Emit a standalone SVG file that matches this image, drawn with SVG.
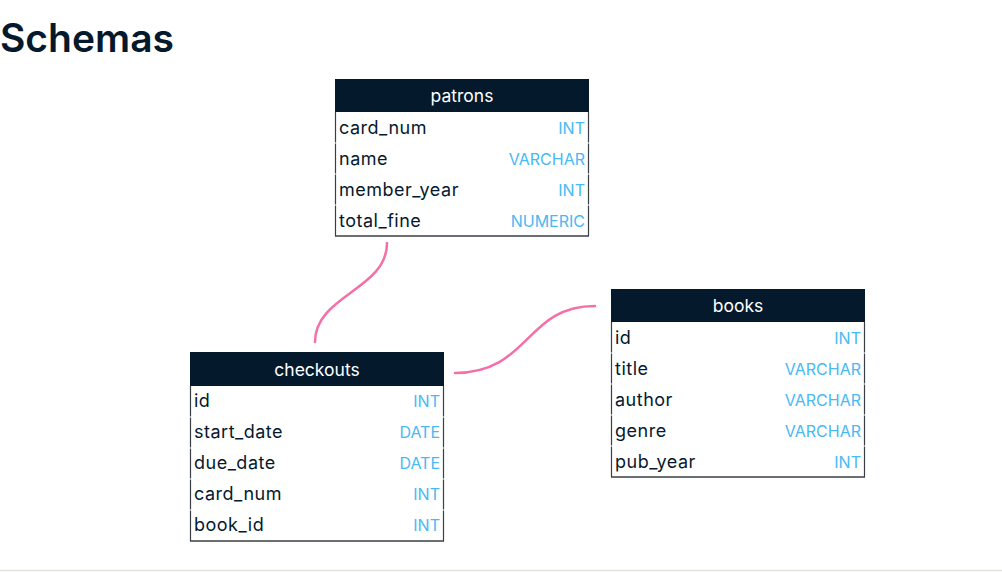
<svg xmlns="http://www.w3.org/2000/svg" width="1002" height="572" viewBox="0 0 1002 572">
<style>
.title{font-family:Inter,"Noto Sans",sans-serif;font-weight:600;font-size:39px;fill:#05192d}
.hdr{fill:#05192d}
.htxt{font-family:Inter,"Noto Sans",sans-serif;font-size:17.5px;fill:#ffffff;text-anchor:middle}
.col{font-family:Inter,"Noto Sans",sans-serif;font-size:18px;letter-spacing:0.5px;fill:#05192d}
.typ{font-family:Inter,"Noto Sans",sans-serif;font-size:16px;fill:#48b9f4;text-anchor:end}
.side{stroke:#3a3f45;stroke-width:1.2;fill:none}
.bot{stroke:#3a3f45;stroke-width:1.5}
.conn{fill:none;stroke:#f470a8;stroke-width:2.5;stroke-linecap:round}
</style>
<rect width="1002" height="572" fill="#ffffff"/>
<text class="title" x="0" y="52">Schemas</text>
<line x1="0" y1="570.5" x2="1002" y2="570.5" stroke="#e4e1dc" stroke-width="1.5"/>
<g id="connectors">
<path class="conn" d="M387,243 C387,290 315,295 315,342"/>
<path class="conn" d="M455,373 C530,373 525,306 595,306"/>
</g>
<g id="patrons">
<rect class="hdr" x="335" y="79" width="254" height="33"/>
<text class="htxt" x="462" y="102">patrons</text>
<path class="side" d="M335.5,112 V142.5 M588.5,112 V142.5 M335.5,143.5 V173.5 M588.5,143.5 V173.5 M335.5,174.5 V204.5 M588.5,174.5 V204.5 M335.5,205.5 V236 M588.5,205.5 V236"/>
<line class="bot" x1="335" y1="236" x2="589" y2="236"/>
<text class="col" x="339" y="134">card_num</text><text class="typ" x="585" y="134">INT</text>
<text class="col" x="339" y="165">name</text><text class="typ" x="585" y="165">VARCHAR</text>
<text class="col" x="339" y="196">member_year</text><text class="typ" x="585" y="196">INT</text>
<text class="col" x="339" y="227">total_fine</text><text class="typ" x="585" y="227">NUMERIC</text>
</g>
<g id="checkouts">
<rect class="hdr" x="190" y="352" width="254" height="34"/>
<text class="htxt" x="317" y="376">checkouts</text>
<path class="side" d="M190.5,386 V416.5 M443.5,386 V416.5 M190.5,417.5 V447.5 M443.5,417.5 V447.5 M190.5,448.5 V478.5 M443.5,448.5 V478.5 M190.5,479.5 V509.5 M443.5,479.5 V509.5 M190.5,510.5 V541 M443.5,510.5 V541"/>
<line class="bot" x1="190" y1="541" x2="444" y2="541"/>
<text class="col" x="194" y="407">id</text><text class="typ" x="440" y="407">INT</text>
<text class="col" x="194" y="438">start_date</text><text class="typ" x="440" y="438">DATE</text>
<text class="col" x="194" y="469">due_date</text><text class="typ" x="440" y="469">DATE</text>
<text class="col" x="194" y="500">card_num</text><text class="typ" x="440" y="500">INT</text>
<text class="col" x="194" y="531">book_id</text><text class="typ" x="440" y="531">INT</text>
</g>
<g id="books">
<rect class="hdr" x="611" y="289" width="254" height="33"/>
<text class="htxt" x="738" y="312">books</text>
<path class="side" d="M611.5,322 V352.5 M864.5,322 V352.5 M611.5,353.5 V383.5 M864.5,353.5 V383.5 M611.5,384.5 V414.5 M864.5,384.5 V414.5 M611.5,415.5 V445.5 M864.5,415.5 V445.5 M611.5,446.5 V477 M864.5,446.5 V477"/>
<line class="bot" x1="611" y1="477" x2="865" y2="477"/>
<text class="col" x="615" y="344">id</text><text class="typ" x="861" y="344">INT</text>
<text class="col" x="615" y="375">title</text><text class="typ" x="861" y="375">VARCHAR</text>
<text class="col" x="615" y="406">author</text><text class="typ" x="861" y="406">VARCHAR</text>
<text class="col" x="615" y="437">genre</text><text class="typ" x="861" y="437">VARCHAR</text>
<text class="col" x="615" y="468">pub_year</text><text class="typ" x="861" y="468">INT</text>
</g>
</svg>
